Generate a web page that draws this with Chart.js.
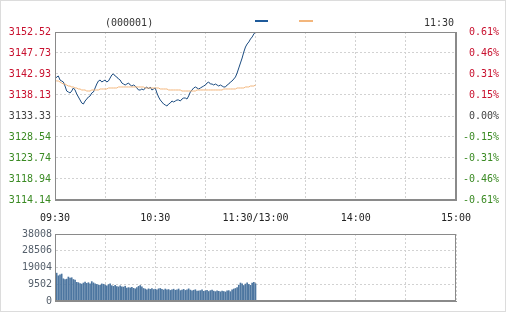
<!DOCTYPE html>
<html><head><meta charset="utf-8">
<script src="https://cdn.jsdelivr.net/npm/chart.js@4/dist/chart.umd.min.js"></script>
<style>
html,body{margin:0;padding:0;background:#fff;}
#frame{position:absolute;left:0;top:0;width:504px;height:310px;border:1px solid #dcdcdc;}
.t{position:absolute;font:10px "DejaVu Sans Mono",monospace;color:#333;white-space:nowrap;line-height:12px;}
#c1{position:absolute;left:0;top:0;}
#c2{position:absolute;left:0;top:225px;}
</style></head><body>
<div id="frame"></div>
<canvas id="c1" width="507" height="230"></canvas>
<canvas id="c2" width="507" height="86"></canvas>
<div class="t" style="left:105px;top:17px">(000001)</div>
<div style="position:absolute;left:255px;top:20px;width:13px;height:2px;background:#1e5a9a"></div>
<div style="position:absolute;left:299px;top:20px;width:14px;height:2px;background:#f3b67c"></div>
<div class="t" style="left:424px;top:17px">11:30</div>
<script>
// ---- data ----
const priceTicks = [3152.52, 3147.73, 3142.93, 3138.13, 3133.33, 3128.54, 3123.74, 3118.94, 3114.14];
const pctLabels = ['0.61%', '0.46%', '0.31%', '0.15%', '0.00%', '-0.15%', '-0.31%', '-0.46%', '-0.61%'];
const basePrice = 3133.33;
const xTickMinutes = [0, 60, 120, 180, 240];
const xTickLabels = ['09:30', '10:30', '11:30/13:00', '14:00', '15:00'];
const volTicks = [0, 9502, 19004, 28506, 38008];

const prices = [
  3141.78, 3142.24, 3142.47, 3141.55, 3141.33, 3141.10, 3140.18, 3139.04, 3138.81, 3138.59,
  3139.04, 3139.73, 3139.27, 3138.36, 3137.67, 3136.99, 3136.30, 3136.07, 3136.76, 3137.21,
  3137.67, 3137.90, 3138.59, 3138.81, 3139.73, 3140.64, 3141.33, 3141.55, 3141.10, 3141.33,
  3141.55, 3141.10, 3141.33, 3142.01, 3142.70, 3142.93, 3142.47, 3142.24, 3141.78, 3141.55,
  3140.87, 3140.64, 3140.41, 3140.64, 3140.87, 3140.41, 3140.18, 3140.41, 3140.18, 3139.73,
  3139.27, 3139.27, 3139.50, 3139.27, 3139.73, 3139.96, 3139.50, 3139.96, 3139.27, 3139.50,
  3139.73, 3138.59, 3137.67, 3136.99, 3136.53, 3136.07, 3135.84, 3135.61, 3136.07, 3136.30,
  3136.76, 3136.53, 3136.76, 3136.99, 3136.99, 3136.76, 3137.21, 3137.44, 3137.44, 3137.21,
  3137.90, 3138.81, 3139.27, 3139.73, 3139.96, 3139.73, 3139.50, 3139.73, 3139.96, 3140.18,
  3140.41, 3140.87, 3141.10, 3140.64, 3140.64, 3140.41, 3140.64, 3140.41, 3140.18, 3140.41,
  3140.18, 3139.96, 3139.96, 3140.41, 3140.64, 3141.10, 3141.33, 3141.78, 3142.24, 3143.15,
  3144.30, 3145.44, 3146.58, 3147.95, 3149.09, 3149.78, 3150.24, 3150.92, 3151.38, 3152.06,
  3152.52
];
const avgPrices = [
  3141.55, 3141.33, 3141.33, 3141.10, 3140.87, 3140.64, 3140.64, 3140.41, 3140.18, 3140.18,
  3139.96, 3139.96, 3139.73, 3139.73, 3139.50, 3139.50, 3139.27, 3139.27, 3139.27, 3139.04,
  3139.04, 3139.04, 3139.27, 3139.27, 3139.27, 3139.27, 3139.27, 3139.50, 3139.50, 3139.50,
  3139.50, 3139.50, 3139.73, 3139.73, 3139.73, 3139.73, 3139.73, 3139.73, 3139.96, 3139.96,
  3139.96, 3139.96, 3139.96, 3139.96, 3139.96, 3139.96, 3139.96, 3139.96, 3139.96, 3139.96,
  3139.96, 3139.96, 3139.96, 3139.96, 3139.73, 3139.73, 3139.73, 3139.73, 3139.73, 3139.73,
  3139.73, 3139.73, 3139.73, 3139.50, 3139.50, 3139.50, 3139.50, 3139.50, 3139.27, 3139.27,
  3139.27, 3139.27, 3139.27, 3139.27, 3139.27, 3139.27, 3139.04, 3139.04, 3139.04, 3139.04,
  3139.04, 3139.04, 3139.04, 3139.04, 3139.04, 3139.27, 3139.27, 3139.27, 3139.27, 3139.27,
  3139.27, 3139.27, 3139.27, 3139.27, 3139.27, 3139.27, 3139.27, 3139.27, 3139.27, 3139.27,
  3139.27, 3139.50, 3139.50, 3139.50, 3139.50, 3139.50, 3139.50, 3139.50, 3139.50, 3139.73,
  3139.73, 3139.73, 3139.73, 3139.73, 3139.96, 3139.96, 3139.96, 3140.18, 3140.18, 3140.18,
  3140.41
];
const volumes = [
  18000, 15800, 14300, 14900, 15300, 12600, 12200, 12400, 13600, 13000,
  13200, 12200, 11800, 10600, 10400, 9900, 9600, 10200, 10800, 10000,
  10400, 9700, 11000, 10300, 9800, 9400, 9100, 8900, 9700, 9500,
  9000, 8600, 9300, 9800, 8700, 8300, 8900, 8200, 8000, 8600,
  8100, 7900, 8400, 7300, 7600, 7400, 7800, 7200, 6900, 7600,
  8300, 8800, 8000, 7100, 6800, 6400, 6900, 6600, 7000, 6500,
  6700, 6300, 6900, 7100, 6600, 6200, 6800, 6400, 6500, 6000,
  6300, 6700, 6100, 6400, 6800, 5900, 6200, 6600, 6000, 6300,
  6900, 6200, 5800, 6100, 6400, 5600, 5700, 5900, 6300, 5500,
  5800, 6100, 5400, 5900, 6200, 5600, 5300, 5800, 5500, 5200,
  5600, 5400, 5100, 5700, 5900, 5300, 6300, 6800, 7100, 7600,
  9000, 10200, 9800, 8800, 9600, 10300, 9400, 8900, 10100, 10600,
  9800
];

// ---- styling ----
const FONT = {family: '"DejaVu Sans Mono", monospace', size: 10};
const RED = '#c8102e', GREEN = '#3a8a23', GREY = '#444444';
const GRID = '#d2d2d2', FRAME = '#8a8a8a';

const framePlugin = {
  id: 'frameRect',
  afterDatasetsDraw(chart) {
    const a = chart.chartArea, c = chart.ctx;
    c.save();
    c.strokeStyle = FRAME; c.lineWidth = 1;
    c.strokeRect(Math.round(a.left) + 0.5, Math.round(a.top) + 0.5,
                 Math.round(a.right - a.left) - 1, Math.round(a.bottom - a.top) - 1);
    c.restore();
  }
};

function priceColor(ctx) {
  const v = ctx.tick ? ctx.tick.value : basePrice;
  if (v > basePrice + 0.001) return RED;
  if (v < basePrice - 0.001) return GREEN;
  return GREY;
}
const sortedPriceTicks = priceTicks.slice().sort((a, b) => a - b);

const xAxisBase = {
  type: 'linear', min: 0, max: 240, offset: false,
  grid: {color: GRID, drawTicks: false, offset: false},
  border: {color: FRAME, dash: [2, 2]},
};

new Chart(document.getElementById('c1'), {
  type: 'line',
  data: {
    datasets: [
      {data: avgPrices.map((v, i) => ({x: i, y: v})), borderColor: '#f3b67c', borderWidth: 1,
       pointRadius: 0, tension: 0, yAxisID: 'y'},
      {data: prices.map((v, i) => ({x: i, y: v})), borderColor: '#1c4c80', borderWidth: 1,
       pointRadius: 0, tension: 0, yAxisID: 'y'}
    ]
  },
  options: {
    responsive: false, animation: false, events: [],
    layout: {padding: {top: 32, right: 8, left: 0, bottom: 0}},
    plugins: {legend: {display: false}, tooltip: {enabled: false}},
    scales: {
      x: Object.assign({}, xAxisBase, {
        ticks: {stepSize: 30, autoSkip: false, maxRotation: 0, padding: 12, color: '#222', font: FONT,
                callback: v => { const i = xTickMinutes.indexOf(v); return i >= 0 ? xTickLabels[i] : ''; }},
        afterFit: s => { s.height = 30; }
      }),
      y: {
        position: 'left', min: priceTicks[priceTicks.length - 1], max: priceTicks[0],
        grid: {color: GRID, drawTicks: false},
        border: {color: FRAME, dash: [2, 2]},
        afterBuildTicks: s => { s.ticks = sortedPriceTicks.map(v => ({value: v})); },
        ticks: {autoSkip: false, padding: 4, font: FONT, color: priceColor,
                callback: v => v.toFixed(2)},
        afterFit: s => { s.width = 55; }
      },
      y2: {
        position: 'right', min: priceTicks[priceTicks.length - 1], max: priceTicks[0],
        grid: {display: false, drawTicks: false},
        border: {color: FRAME},
        afterBuildTicks: s => { s.ticks = sortedPriceTicks.map(v => ({value: v})); },
        ticks: {autoSkip: false, padding: 4, crossAlign: 'far', font: FONT, color: priceColor,
                callback: v => pctLabels[priceTicks.indexOf(v)]},
        afterFit: s => { s.width = 43; }
      }
    }
  },
  plugins: [framePlugin]
});

new Chart(document.getElementById('c2'), {
  type: 'bar',
  data: {
    datasets: [
      {data: volumes.map((v, i) => ({x: i, y: v})), backgroundColor: '#4d76a0',
       barThickness: 1, borderWidth: 0}
    ]
  },
  options: {
    responsive: false, animation: false, events: [],
    layout: {padding: {top: 6, right: 51, left: 0, bottom: 10}},
    plugins: {legend: {display: false}, tooltip: {enabled: false}},
    scales: {
      x: Object.assign({}, xAxisBase, {
        ticks: {display: false, stepSize: 30, autoSkip: false},
        afterFit: s => { s.height = 0; }
      }),
      y: {
        position: 'left', min: 0, max: volTicks[volTicks.length - 1],
        grid: {color: GRID, drawTicks: false},
        border: {color: FRAME, dash: [2, 2]},
        afterBuildTicks: s => { s.ticks = volTicks.map(v => ({value: v})); },
        ticks: {autoSkip: false, padding: 3, font: FONT, color: '#56606c',
                callback: v => String(v)},
        afterFit: s => { s.width = 55; }
      }
    }
  },
  plugins: [framePlugin]
});
</script>
</body></html>
